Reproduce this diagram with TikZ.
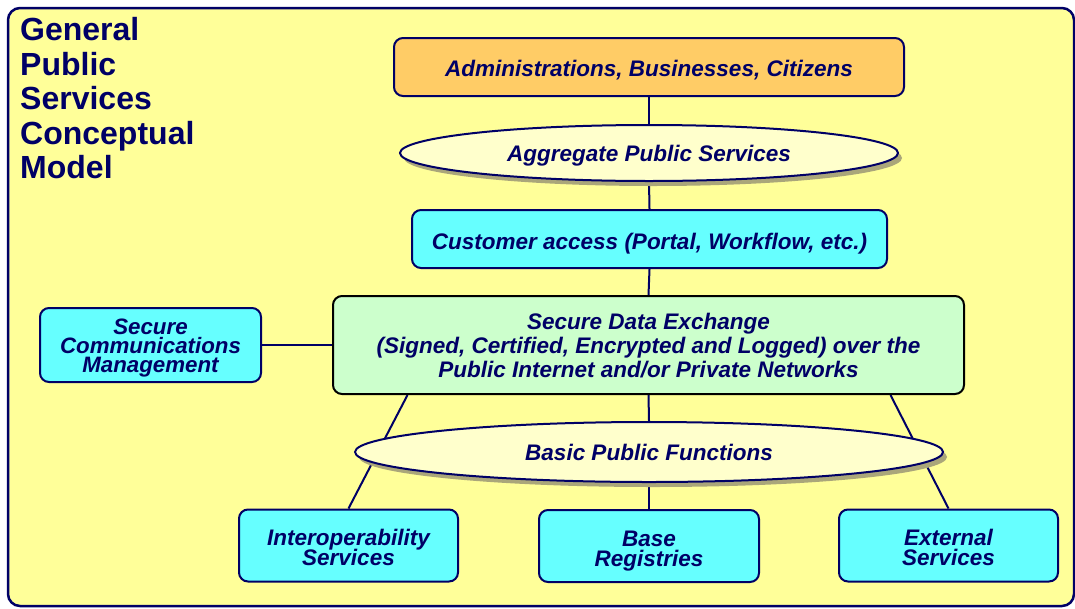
\documentclass[tikz,border=0pt]{standalone}
\usepackage{fontspec}
\setmainfont{Liberation Sans}
\usetikzlibrary{shapes.geometric,shadows}
\definecolor{navy}{RGB}{0,0,102}
\definecolor{pagefill}{RGB}{255,255,153}
\definecolor{orangefill}{RGB}{255,204,102}
\definecolor{cyanfill}{RGB}{102,255,255}
\definecolor{greenfill}{RGB}{204,255,204}
\definecolor{ovalfill}{RGB}{255,255,204}
\definecolor{shadowgray}{RGB}{170,166,122}
\pgfdeclarelayer{back}
\pgfdeclarelayer{links}
\pgfsetlayers{back,links,main}
\newcommand{\boxfont}[2]{\bfseries\itshape\fontsize{#1}{#2}\selectfont\lineskiplimit=-50pt\relax}
\tikzstyle{box}=[draw=navy, line width=2pt, rounded corners=9pt, inner sep=0pt, text=navy, align=center, text depth=0pt, font=\boxfont{22.5}{24}]
\tikzstyle{oval}=[ellipse, draw=navy, line width=2pt, fill=ovalfill, inner sep=0pt, text=navy, text height=16pt, text depth=0pt, font=\boxfont{22.5}{24}, drop shadow={shadow xshift=4pt, shadow yshift=-5pt, fill=shadowgray, opacity=1}]
\tikzstyle{link}=[draw=navy, line width=2pt]

\begin{document}
\begin{tikzpicture}[x=1pt, y=-1pt]
\useasboundingbox (0,0) rectangle (1075,608);
% Frame
\begin{pgfonlayer}{back}
    \draw[navy, fill=pagefill, line width=2.5pt, rounded corners=12pt] (8,8) rectangle (1074,606);
\end{pgfonlayer}
\node[anchor=north west, align=left, inner sep=0pt, text=navy, font=\bfseries\fontsize{32}{34.5}\selectfont] (title) at (20,17.5) {General\\Public\\Services\\Conceptual\\Model};
% Upper chain
\node[box, fill=orangefill, minimum width=510pt, minimum height=58pt, text height=18pt] (admin) at (649,67) {Administrations, Businesses, Citizens};
\node[oval, minimum width=498pt, minimum height=56pt] (aggr) at (649,153) {Aggregate Public Services};
\node[box, fill=cyanfill, minimum width=475pt, minimum height=58pt, text height=20pt] (cust) at (649.5,239) {Customer access (Portal, Workflow, etc.)};
\node[box, draw=black, fill=greenfill, minimum width=631pt, minimum height=98pt, text height=64pt] (sde) at (648.5,345) {Secure Data Exchange\\(Signed, Certified, Encrypted and Logged) over the\\Public Internet and/or Private Networks};
\node[box, fill=cyanfill, minimum width=221pt, minimum height=74pt, text height=54pt, font=\boxfont{22.3}{18.7}] (scm) at (150.5,345) {Secure\\Communications\\Management};
% Lower row
\node[oval, minimum width=588pt, minimum height=60pt] (basic) at (649,452) {Basic Public Functions};
\node[box, fill=cyanfill, minimum width=219pt, minimum height=72pt, text height=40pt, font=\boxfont{22.5}{20}] (inter) at (348.5,545.5) {Interoperability\\Services};
\node[box, fill=cyanfill, minimum width=220pt, minimum height=72pt, text height=40pt, font=\boxfont{22.5}{20}] (base) at (649,546) {Base\\Registries};
\node[box, fill=cyanfill, minimum width=219pt, minimum height=72pt, text height=40pt, font=\boxfont{22.5}{20}] (ext) at (948.5,545.5) {External\\Services};
% Links
\begin{pgfonlayer}{links}
    \draw[link] (admin.south) -- (aggr.north);
    \draw[link] (aggr.south) -- (cust.north);
    \draw[link] (cust.south) -- (sde.north);
    \draw[link] (scm.east) -- (sde.west);
    \draw[link] (sde.south) -- (basic.north);
    \draw[link] (basic.south) -- (base.north);
    \draw[link] ([xshift=-241pt]sde.south) -- (inter.north);
    \draw[link] ([xshift=242pt]sde.south) -- (ext.north);
\end{pgfonlayer}
\end{tikzpicture}
\end{document}
